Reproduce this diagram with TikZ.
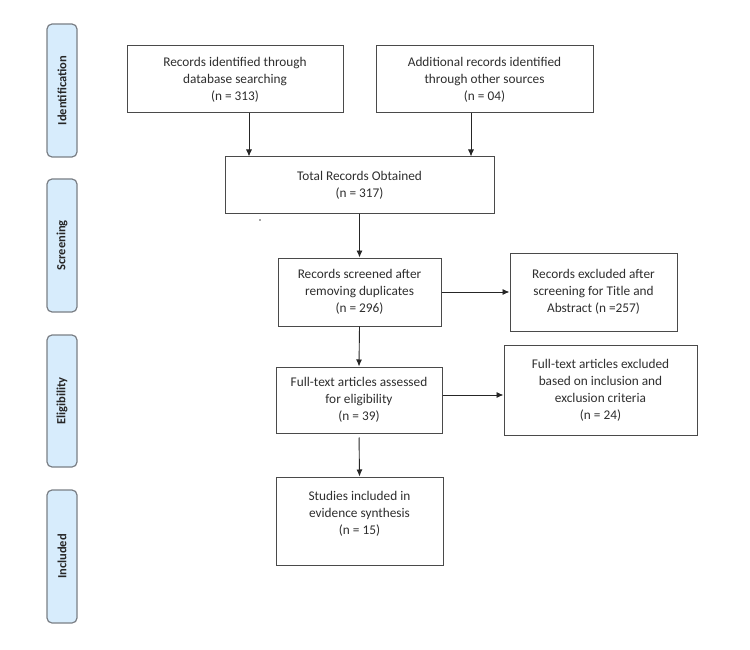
\documentclass[tikz,border=0pt]{standalone}
\usepackage{fontspec}
\setmainfont{Carlito}
\usetikzlibrary{arrows.meta}
\definecolor{sidefill}{HTML}{D7ECFC}
\definecolor{sideline}{HTML}{7A7F85}
\definecolor{boxline}{HTML}{4A4A4A}
\definecolor{txt}{HTML}{2E2E2E}
\begin{document}
\begin{tikzpicture}[x=1pt,y=-1pt,
  box/.style={draw=boxline, line width=1pt, align=center, text=txt,
    font=\fontsize{13.3}{17}\selectfont, inner sep=0pt, anchor=center},
  side/.style={draw=sideline, fill=sidefill, line width=1.2pt, rounded corners=5pt,
    minimum width=30pt, inner sep=0pt, anchor=center, text=black!85,
    font=\bfseries\fontsize{12.5}{14}\selectfont},
  arr/.style={draw=black!85, line width=0.9pt, -{Latex[length=7pt,width=6pt]}}]
\useasboundingbox (0,0) rectangle (750,650);
% side phase labels
\node[side, minimum height=133pt] (sid) at (62,90.5) {\rotatebox{90}{Identification}};
\node[side, minimum height=133pt] (ssc) at (62,245.5) {\rotatebox{90}{Screening}};
\node[side, minimum height=132pt] (sel) at (62,401) {\rotatebox{90}{Eligibility}};
\node[side, minimum height=133pt] (sin) at (62,556.5) {\rotatebox{90}{Included}};
% boxes
\node[box, minimum width=216pt, minimum height=67pt] (b1) at (235,79.5)
  {Records identified through\\database searching\\(n = 313)};
\node[box, minimum width=217pt, minimum height=67pt] (b2) at (484.5,79.5)
  {Additional records identified\\through other sources\\(n = 04)};
\node[box, minimum width=269pt, minimum height=56pt] (b3) at (359.5,185)
  {Total Records Obtained\\(n = 317)};
\node[box, minimum width=163pt, minimum height=68pt] (b4) at (359.5,292)
  {Records screened after\\removing duplicates\\(n = 296)};
\node[box, minimum width=167pt, minimum height=78pt] (b5) at (593.5,292)
  {Records excluded after\\screening for Title and\\Abstract (n =257)};
\node[box, minimum width=166pt, minimum height=66pt] (b6) at (359,400)
  {Full-text articles assessed\\for eligibility\\(n = 39)};
\node[box, minimum width=193pt, minimum height=90pt] (b7) at (600.5,390)
  {Full-text articles excluded\\based on inclusion and\\exclusion criteria\\(n = 24)};
\node[box, minimum width=167pt, minimum height=88pt] (b8) at (359.5,521)
  {Studies included in\\evidence synthesis\\(n = 15)\\\mbox{}};
% helper coordinates
\coordinate (c1) at (249,0);
\coordinate (c2) at (471,0);
\coordinate (c3) at (0,395);
% arrows
\draw[arr] (b1.south -| c1) -- (b3.north -| c1);
\draw[arr] (b2.south -| c2) -- (b3.north -| c2);
\draw[arr] (b3.south) -- (b4.north);
\draw[arr] (b4.east) -- (b5.west);
\draw[arr] (b4.south) -- (b6.north);
\draw[arr] (b6.east |- c3) -- (b7.west |- c3);
\draw[arr, shorten <=4pt] (b6.south) -- (b8.north);
% stray dot
\fill[black!70] (260,220) circle (0.9pt);
\end{tikzpicture}
\end{document}
